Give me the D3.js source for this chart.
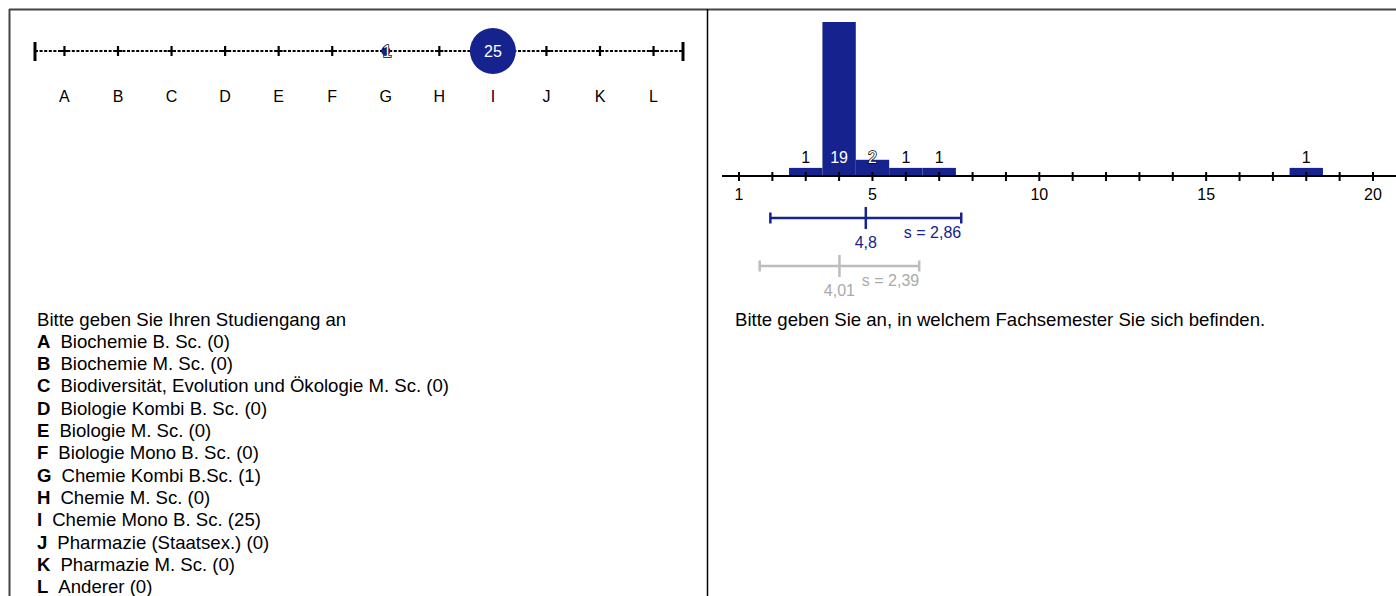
<!DOCTYPE html>
<html>
<head>
<meta charset="utf-8">
<script src="https://cdn.jsdelivr.net/npm/d3@7"></script>
<style>
  body { margin: 0; background: #fff; }
  svg { display: block; font-family: "Liberation Sans", Arial, sans-serif; }
</style>
</head>
<body>
<svg id="chart"></svg>
<script>
// left question: study programme
const letters = ["A","B","C","D","E","F","G","H","I","J","K","L"];
const programmes = ["Biochemie B. Sc.", "Biochemie M. Sc.", "Biodiversität, Evolution und Ökologie M. Sc.",
  "Biologie Kombi B. Sc.", "Biologie M. Sc.", "Biologie Mono B. Sc.", "Chemie Kombi B.Sc.",
  "Chemie M. Sc.", "Chemie Mono B. Sc.", "Pharmazie (Staatsex.)", "Pharmazie M. Sc.", "Anderer"];
const programmeCounts = [0, 0, 0, 0, 0, 0, 1, 0, 25, 0, 0, 0];

// right question: semester histogram
const semesters = [3, 4, 5, 6, 7, 18];
const semesterCounts = [1, 19, 2, 1, 1, 1];
const semesterTicks = [1, 5, 10, 15, 20];
const statMean = [4.8, 4.01];
const statSd = [2.86, 2.39];

const W = 1396, H = 596;
const blue = "#16238e";
const grey = "#bdbdbd";

let svg = d3.select("#chart").attr("width", W).attr("height", H);

// frame
svg.append("line").attr("x1", 9).attr("x2", W).attr("y1", 9.5).attr("y2", 9.5)
  .attr("stroke", "#444").attr("stroke-width", 2);
svg.append("line").attr("x1", 9.5).attr("x2", 9.5).attr("y1", 9).attr("y2", H)
  .attr("stroke", "#444").attr("stroke-width", 2);
svg.append("line").attr("x1", 707.5).attr("x2", 707.5).attr("y1", 9).attr("y2", H)
  .attr("stroke", "#000").attr("stroke-width", 1.5);

// label colour depending on how much a mark covers it
let labelStyle = (sel, covered) => {
  if (covered === "full") sel.attr("fill", "#fff");
  else if (covered === "part") sel.attr("fill", "#fff").attr("stroke", "#000").attr("stroke-width", 1.5).attr("paint-order", "stroke");
  else sel.attr("fill", "#000");
}

// ---------- left panel ----------
let axY = 51;
let xL = d3.scalePoint().domain(letters).range([35, 683]).padding(0.55);
let rL = d3.scaleSqrt().domain([0, 25]).range([0, 23]);

let gL = svg.append("g");
gL.append("line").attr("x1", 35).attr("x2", 683).attr("y1", axY).attr("y2", axY)
  .attr("stroke", "#000").attr("stroke-width", 2).attr("stroke-dasharray", "3,1.6");
[35, 683].forEach(x => {
  gL.append("line").attr("x1", x).attr("x2", x).attr("y1", axY - 9).attr("y2", axY + 10)
    .attr("stroke", "#000").attr("stroke-width", 3);
});
gL.selectAll(".tk").data(letters).enter().append("path")
  .attr("d", d => `M${xL(d)},${axY - 5}V${axY + 5}M${xL(d) - 4},${axY}H${xL(d) + 4}`)
  .attr("stroke", "#000").attr("stroke-width", 2.2);
gL.selectAll(".lb").data(letters).enter().append("text")
  .attr("x", d => xL(d)).attr("y", 101.5).attr("text-anchor", "middle")
  .attr("font-size", 16).text(d => d);

let nonZero = letters.map((l, i) => ({l: l, c: programmeCounts[i]})).filter(d => d.c > 0);
gL.selectAll(".dot").data(nonZero).enter().append("circle")
  .attr("cx", d => xL(d.l)).attr("cy", axY).attr("r", d => rL(d.c)).attr("fill", blue);
gL.selectAll(".dl").data(nonZero).enter().append("text")
  .attr("x", d => xL(d.l) + (rL(d.c) < 8 ? 1.5 : 0)).attr("y", axY + 5.5).attr("text-anchor", "middle")
  .attr("font-size", 16).text(d => d.c)
  .each(function(d) { labelStyle(d3.select(this), rL(d.c) > 10 ? "full" : "part"); });

// question and legend
svg.append("text").attr("x", 37).attr("y", 326).attr("font-size", 18.6)
  .text("Bitte geben Sie Ihren Studiengang an");
let leg = svg.selectAll(".leg").data(letters).enter().append("text")
  .attr("x", 37).attr("y", (d, i) => 347.5 + i * 22.36).attr("font-size", 18.6);
leg.append("tspan").attr("font-weight", "bold").text(d => d);
leg.append("tspan").attr("dx", 10).text((d, i) => programmes[i] + " (" + programmeCounts[i] + ")");

// ---------- right panel ----------
let baseY = 176;
let xR = d3.scaleLinear().domain([1, 20]).range([739, 1373]);
let yR = d3.scaleLinear().domain([0, 19]).range([baseY, 22]);
let unit = xR(2) - xR(1);

let gR = svg.append("g");
gR.selectAll(".bar").data(semesters).enter().append("rect")
  .attr("x", d => xR(d) - unit / 2).attr("width", unit)
  .attr("y", (d, i) => yR(semesterCounts[i])).attr("height", (d, i) => baseY - yR(semesterCounts[i]))
  .attr("fill", blue);

gR.append("line").attr("x1", 722).attr("x2", W).attr("y1", baseY).attr("y2", baseY)
  .attr("stroke", "#000").attr("stroke-width", 2);
gR.selectAll(".tk").data(d3.range(1, 22)).enter().append("line")
  .attr("x1", d => xR(d)).attr("x2", d => xR(d)).attr("y1", baseY - 4).attr("y2", baseY + 5)
  .attr("stroke", "#000").attr("stroke-width", 2);
gR.selectAll(".tl").data(semesterTicks).enter().append("text")
  .attr("x", d => xR(d)).attr("y", 199.5).attr("text-anchor", "middle").attr("font-size", 16)
  .text(d => d);

let lblBase = 162.5;
gR.selectAll(".bl").data(semesters).enter().append("text")
  .attr("x", d => xR(d)).attr("y", lblBase).attr("text-anchor", "middle").attr("font-size", 16)
  .text((d, i) => semesterCounts[i])
  .each(function(d, i) {
    let top = yR(semesterCounts[i]);
    labelStyle(d3.select(this), top <= lblBase - 12 ? "full" : (top < lblBase ? "part" : "none"));
  });

// mean / sd bars
let statY = [218, 266];
let statCol = [blue, grey];
let statTxt = [blue, "#aaaaaa"];
let fmt = v => String(v).replace(".", ",");
statMean.forEach((m, i) => {
  let y = statY[i];
  let g = gR.append("g").attr("stroke", statCol[i]).attr("stroke-width", 2.5);
  g.append("line").attr("x1", xR(m - statSd[i])).attr("x2", xR(m + statSd[i])).attr("y1", y).attr("y2", y);
  [m - statSd[i], m + statSd[i]].forEach(v => {
    g.append("line").attr("x1", xR(v)).attr("x2", xR(v)).attr("y1", y - 5.5).attr("y2", y + 5.5);
  });
  g.append("line").attr("x1", xR(m)).attr("x2", xR(m)).attr("y1", y - 11).attr("y2", y + 11);
  gR.append("text").attr("x", xR(m)).attr("y", y + 29.5).attr("text-anchor", "middle")
    .attr("font-size", 16).attr("fill", statTxt[i]).text(fmt(m));
  gR.append("text").attr("x", xR(m + statSd[i])).attr("y", y + 19.5).attr("text-anchor", "end")
    .attr("font-size", 16).attr("fill", statTxt[i]).text("s = " + fmt(statSd[i]));
});

svg.append("text").attr("x", 735).attr("y", 326).attr("font-size", 18.6)
  .text("Bitte geben Sie an, in welchem Fachsemester Sie sich befinden.");
</script>
</body>
</html>
